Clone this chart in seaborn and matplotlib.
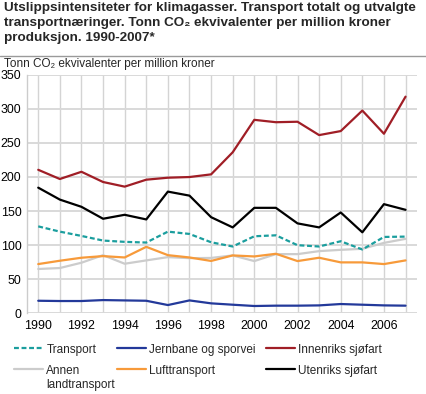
import numpy as np
import pandas as pd
import matplotlib
matplotlib.use("Agg")
import matplotlib.pyplot as plt
from matplotlib.lines import Line2D
import seaborn as sns

years = list(range(1990, 2008))
transport = [127.5, 119.8, 113.5, 106.7, 104.8, 103.8, 119.8, 116.4, 104.2, 98.0,
             113.0, 114.4, 99.9, 98.0, 105.7, 93.6, 112.0, 112.5]
jernbane = [18.4, 18.0, 18.0, 19.4, 18.9, 18.4, 12.1, 18.9, 14.6, 12.6,
            10.7, 11.2, 11.2, 11.6, 13.6, 12.6, 11.6, 11.2]
innenriks = [210.5, 197.0, 207.6, 192.6, 185.8, 196.0, 198.9, 199.9, 203.8, 236.2,
             283.8, 280.3, 281.0, 261.4, 267.3, 297.4, 263.4, 317.8]
annen = [65.0, 66.4, 74.2, 85.3, 72.7, 77.6, 82.4, 80.9, 81.2, 84.9,
         76.6, 86.8, 86.8, 91.2, 93.1, 94.6, 103.3, 109.2]
luft = [72.2, 77.1, 81.5, 83.9, 81.9, 97.5, 85.3, 81.9, 76.8, 84.9,
        83.4, 87.3, 76.6, 81.5, 74.7, 74.7, 72.2, 77.6]
utenriks = [184.3, 166.8, 156.2, 138.7, 144.5, 137.7, 178.5, 172.6, 141.0, 126.0,
            154.7, 154.7, 131.9, 126.0, 147.9, 118.8, 160.1, 151.8]

series_names = ["Transport", "Jernbane og sporvei", "Innenriks sjøfart",
                "Annen\nlandtransport", "Lufttransport", "Utenriks sjøfart"]
series_values = [transport, jernbane, innenriks, annen, luft, utenriks]
y_ticks = [0, 50, 100, 150, 200, 250, 300, 350]
x_ticks = list(range(1990, 2007, 2))

colors = {
    "Transport": "#1b9e9e",
    "Jernbane og sporvei": "#23399a",
    "Innenriks sjøfart": "#a01e26",
    "Annen\nlandtransport": "#cccccc",
    "Lufttransport": "#f79a3a",
    "Utenriks sjøfart": "#000000",
}
dashes = {n: "" for n in series_names}
dashes["Transport"] = (2.2, 1.2)

rows = []
for name, vals in zip(series_names, series_values):
    for yr, v in zip(years, vals):
        rows.append({"year": yr, "value": v, "series": name})
df = pd.DataFrame(rows)

sns.set_theme(style="white")
plt.rcParams["font.family"] = ["Liberation Sans", "DejaVu Sans"]

W, H = 427, 394
fig = plt.figure(figsize=(W / 100, H / 100), dpi=100)
ax = fig.add_axes([27 / W, 1 - 313.3 / H, (417 - 27) / W, (313.3 - 74.7) / H])

order = ["Annen\nlandtransport", "Lufttransport", "Jernbane og sporvei",
         "Transport", "Utenriks sjøfart", "Innenriks sjøfart"]
sns.lineplot(data=df, x="year", y="value", hue="series", style="series",
             hue_order=order, style_order=order, palette=colors, dashes=dashes,
             linewidth=1.6, ax=ax, legend=False, zorder=3)

ax.set_xlim(1989.48, 2007.53)
ax.set_ylim(0, 350)
ax.set_yticks(y_ticks)
ax.set_xticks(years)
ax.set_xticklabels([str(y) if y in x_ticks else "" for y in years])
ax.set_xlabel("")
ax.set_ylabel("")
ax.grid(True, axis="y", color="#d9d9d9", linewidth=1.4)
ax.grid(True, axis="x", color="#d4d4d4", linewidth=1.0)
ax.set_axisbelow(True)
for s in ["top", "right", "bottom"]:
    ax.spines[s].set_visible(False)
ax.spines["left"].set_color("#cccccc")
ax.spines["left"].set_linewidth(1.0)
ax.tick_params(axis="both", length=0, labelsize=8.9, colors="#000000")
ax.tick_params(axis="y", pad=4)
ax.tick_params(axis="x", pad=5)

# title
fig.text(4 / W, 1 - 2.5 / H,
         "Utslippsintensiteter for klimagasser. Transport totalt og utvalgte\n"
         "transportnæringer. Tonn CO₂ ekvivalenter per million kroner\n"
         "produksjon. 1990-2007*",
         ha="left", va="top", fontsize=9.7, fontweight="bold", linespacing=1.3)
fig.add_artist(Line2D([0, 1], [1 - 56 / H, 1 - 56 / H], transform=fig.transFigure,
                      color="#9a9a9a", linewidth=1.0))
fig.text(4 / W, 1 - 63.5 / H, "Tonn CO₂ ekvivalenter per million kroner",
         ha="left", va="center", fontsize=8.5)

# legend: three columns
handles = {}
for n in series_names:
    ls = (0, dashes[n]) if dashes[n] else "-"
    handles[n] = Line2D([], [], color=colors[n], linewidth=1.6, linestyle=ls)

cols = [(["Transport", "Annen\nlandtransport"], 14),
        (["Jernbane og sporvei", "Lufttransport"], 117),
        (["Innenriks sjøfart", "Utenriks sjøfart"], 266)]
for names, x0 in cols:
    leg = fig.legend(handles=[handles[n] for n in names], labels=names,
                     loc="upper left", bbox_to_anchor=(x0 / W, 1 - 344 / H),
                     frameon=False, fontsize=8.5, handlelength=2.45,
                     handletextpad=0.3, labelspacing=0.78, borderpad=0,
                     borderaxespad=0)
    for col in leg._legend_handle_box.get_children():
        for item in col.get_children():
            item.align = "top"

fig.savefig("out.png", dpi=100)
